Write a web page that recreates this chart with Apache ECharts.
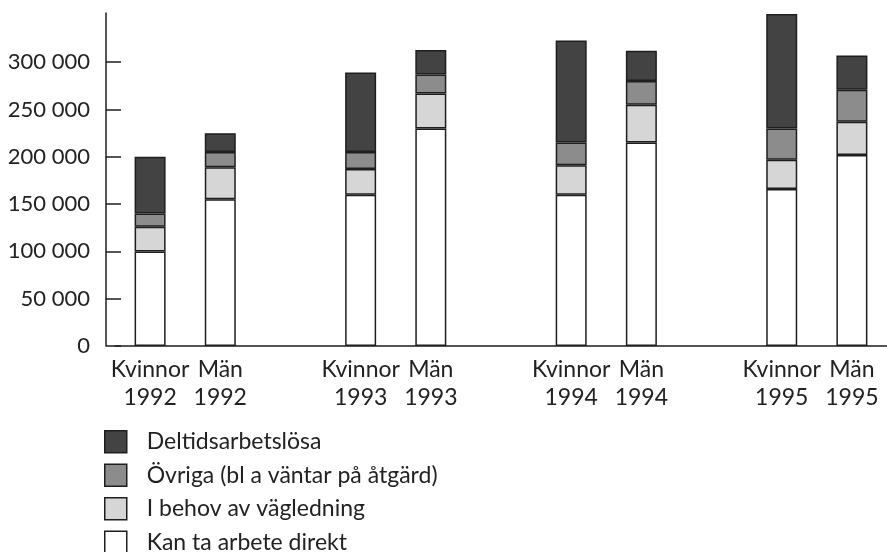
<!DOCTYPE html>
<html lang="sv">
<head>
    <meta charset="UTF-8">
    <title>Arbetslösa</title>
    <script src="https://cdn.jsdelivr.net/npm/echarts@6/dist/echarts.min.js"></script>
    <style>
        html, body { margin: 0; padding: 0; background: #fff; }
        #chart { width: 887px; height: 552px; }
    </style>
</head>
<body>
<div id="chart"></div>
<script>
    // kategorier, tomma platser ger mellanrum mellan åren
    var categories = ['Kvinnor\n1992', 'Män\n1992', '', 'Kvinnor\n1993', 'Män\n1993', '',
        'Kvinnor\n1994', 'Män\n1994', '', 'Kvinnor\n1995', 'Män\n1995'];
    var kanTaArbete = [100000, 155000, '-', 160000, 230000, '-', 160000, 215000, '-', 166000, 202000];
    var behovVagledning = [26000, 34000, '-', 27000, 37000, '-', 31000, 40000, '-', 31000, 35000];
    var ovriga = [14000, 16000, '-', 18000, 20000, '-', 24000, 25000, '-', 33000, 34000];
    var deltid = [60000, 20000, '-', 84000, 26000, '-', 108000, 32000, '-', 121000, 36000];
    var yTicks = [0, 50000, 100000, 150000, 200000, 250000, 300000];

    var font = 'Lato';
    var border = '#1e1e1e';

    function serie(name, data, color) {
        return {
            name: name,
            type: 'bar',
            stack: 'total',
            barWidth: 31,
            data: data,
            itemStyle: { color: color, borderColor: border, borderWidth: 1.5 },
            emphasis: { disabled: true }
        };
    }

    var chart = echarts.init(document.getElementById('chart'));
    chart.setOption({
        animation: false,
        backgroundColor: '#fff',
        grid: { left: 115, top: 13, width: 773, bottom: 206 },
        legend: {
            orient: 'vertical',
            left: 104,
            top: 430,
            height: 130,
            padding: 0,
            itemWidth: 22,
            itemHeight: 22,
            itemGap: 10,
            icon: 'rect',
            selectedMode: false,
            textStyle: { fontFamily: font, fontSize: 23, lineHeight: 22, color: '#222', padding: [0, 0, 0, 15] },
            data: ['Deltidsarbetslösa', 'Övriga (bl a väntar på åtgärd)', 'I behov av vägledning', 'Kan ta arbete direkt'],
            itemStyle: { borderColor: border, borderWidth: 1.5 }
        },
        xAxis: {
            type: 'category',
            data: categories,
            axisLine: { lineStyle: { color: border, width: 1.5 } },
            axisTick: { show: false },
            axisLabel: {
                interval: 0,
                margin: 10,
                fontFamily: font,
                fontSize: 23,
                lineHeight: 28,
                color: '#222'
            }
        },
        yAxis: {
            type: 'value',
            min: 0,
            max: 352000,
            offset: 9,
            splitLine: { show: false },
            axisLine: { show: true, lineStyle: { color: border, width: 1.5 } },
            axisTick: { show: true, inside: true, length: 15, customValues: yTicks, lineStyle: { color: border, width: 1.5 } },
            axisLabel: {
                customValues: yTicks,
                margin: 16,
                fontFamily: font,
                fontSize: 22,
                color: '#222',
                formatter: function (v) {
                    return String(v).replace(/\B(?=(\d{3})+(?!\d))/g, ' ');
                }
            }
        },
        series: [
            serie('Kan ta arbete direkt', kanTaArbete, '#ffffff'),
            serie('I behov av vägledning', behovVagledning, '#d6d6d6'),
            serie('Övriga (bl a väntar på åtgärd)', ovriga, '#8c8c8c'),
            serie('Deltidsarbetslösa', deltid, '#434343')
        ]
    });
</script>
</body>
</html>
